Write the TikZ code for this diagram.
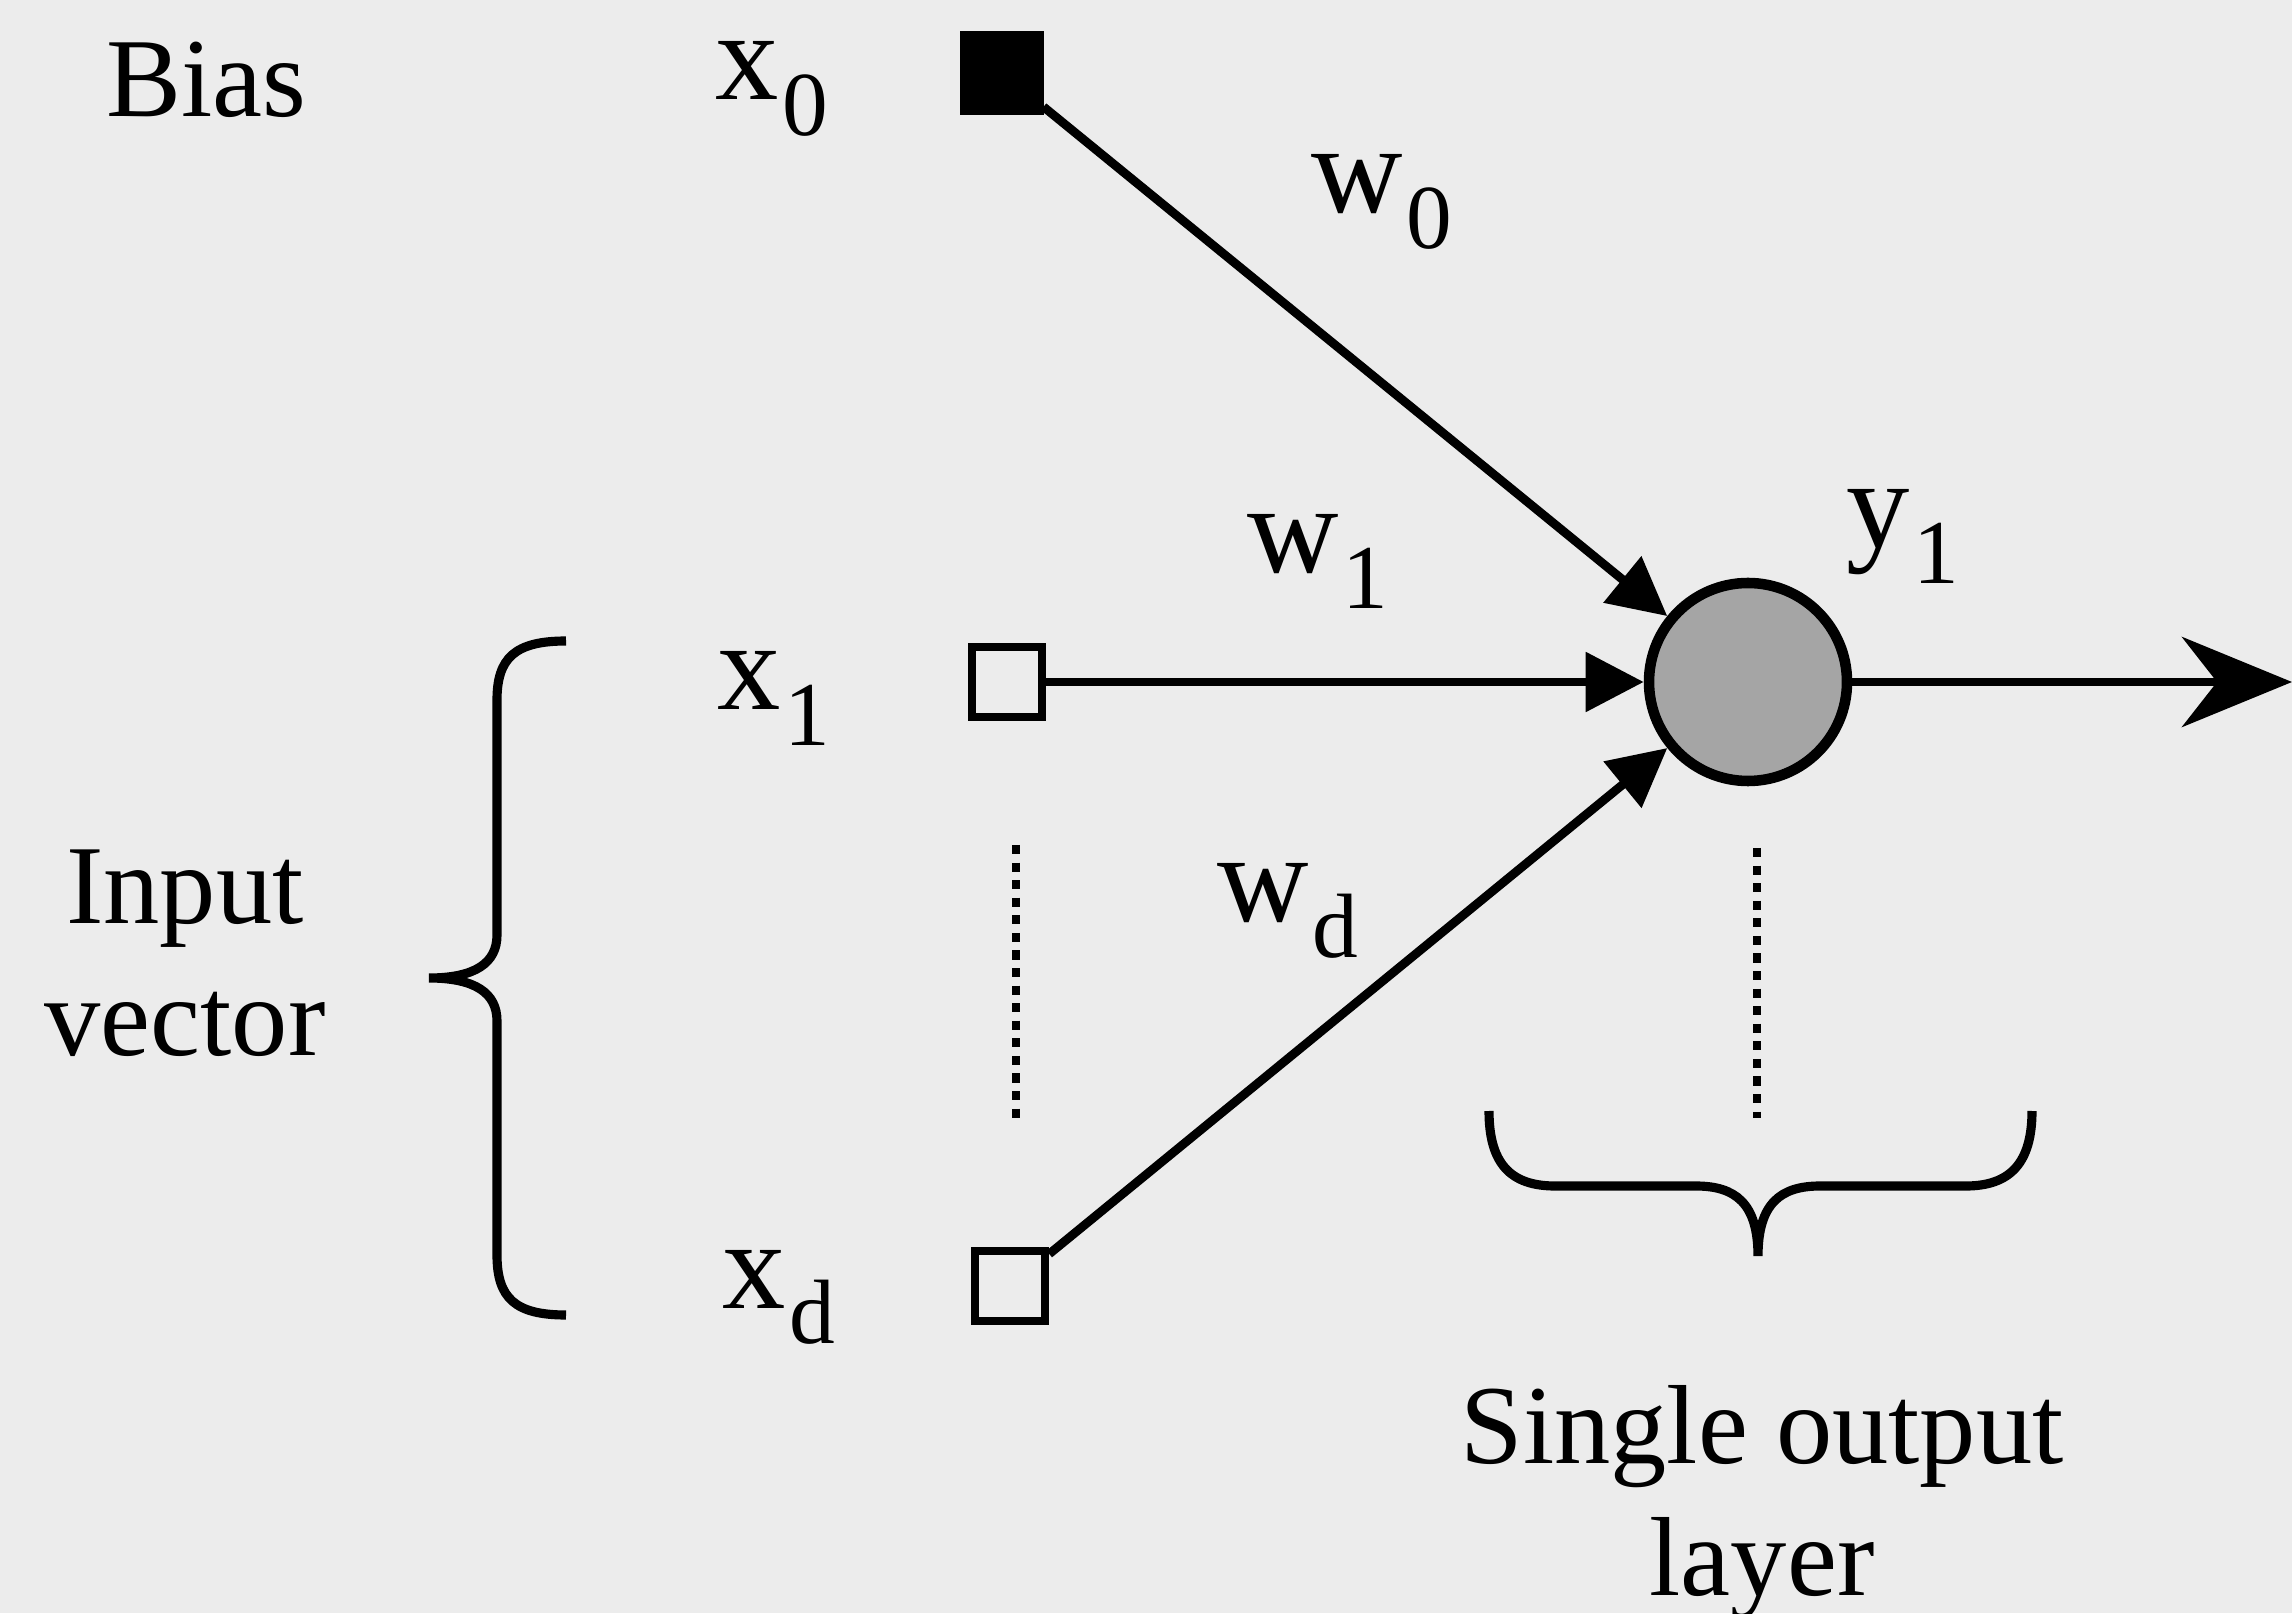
\documentclass[tikz,border=0pt]{standalone}
\usepackage{fontspec}
\setmainfont{Liberation Serif}
\usepackage{tikz}
\usetikzlibrary{arrows.meta, positioning, shapes.geometric}

\definecolor{paper}{RGB}{236,236,236}
\definecolor{cellgray}{RGB}{165,165,165}

% subscript as in the scanned figure
\newcommand{\idx}[1]{\kern1pt\raisebox{-10pt}{\fontsize{26}{26}\selectfont #1}}

\tikzset{
  inbox/.style={draw, line width=2.4pt, minimum size=0.7cm, inner sep=0pt},
  biasbox/.style={draw, fill=black, line width=2pt, minimum size=0.76cm, inner sep=0pt},
  neuron/.style={circle, draw, fill=cellgray, line width=3pt, minimum size=1.98cm, inner sep=0pt},
  conn/.style={line width=2.5pt, -{Triangle[length=0.58cm, width=0.58cm]}},
  lbl/.style={font=\fontsize{36}{40}\selectfont, inner sep=0pt, anchor=base west},
  words/.style={font=\fontsize{32}{37.5}\selectfont, inner sep=0pt, align=center},
  dots/.style={line width=2.2pt, dash pattern=on 2.6pt off 2.4pt},
  curly/.style={line width=2.6pt}
}

\begin{document}
\begin{tikzpicture}
\fill[paper] (0,0) rectangle (22.92,16.13);
\useasboundingbox (0,0) rectangle (22.92,16.13);

% input units
\node[biasbox] (bias) at (10.02,15.40) {};
\node[inbox] (in1) at (10.07,9.31) {};
\node[inbox] (ind) at (10.10,3.27) {};

% output unit
\node[neuron] (out) at (17.48,9.31) {};
\coordinate (outend) at (22.92,9.31);

% weights
\draw[conn] (bias) -- (out);
\draw[conn] (in1) -- (out);
\draw[conn] (ind) -- (out);
\draw[line width=2.5pt, -{Stealth[length=1.1cm, width=0.9cm, inset=0.35cm]}] (out) -- (outend);

% labels
\node[words, anchor=base west] (biastxt) at (1.06,14.96) {Bias};
\node[lbl] (x0) at (7.15,15.13) {x\idx{0}};
\node[lbl] (x1) at (7.17,9.03) {x\idx{1}};
\node[lbl] (xd) at (7.22,3.05) {x\idx{d}};
\node[lbl] (w0) at (13.11,14.00) {w\idx{0}};
\node[lbl] (w1) at (12.47,10.40) {w\idx{1}};
\node[lbl] (wd) at (12.17,6.91) {w\idx{d}};
\node[lbl] (y1) at (18.46,10.65) {y\idx{1}};

% dots between units
\draw[dots] (10.16,7.68) -- (10.16,4.95);
\draw[dots] (17.57,7.65) -- (17.57,4.95);

% braces
\draw[curly] (5.66,9.72) .. controls (5.15,9.72) and (4.97,9.55) .. (4.97,9.13)
  -- (4.97,6.78) .. controls (4.97,6.5) and (4.75,6.35) .. (4.29,6.35)
  .. controls (4.75,6.35) and (4.97,6.2) .. (4.97,5.92)
  -- (4.97,3.58) .. controls (4.97,3.15) and (5.15,2.98) .. (5.66,2.98);
\draw[curly] (14.89,5.02) .. controls (14.89,4.5) and (15.1,4.27) .. (15.55,4.27)
  -- (16.96,4.27) .. controls (17.35,4.27) and (17.58,4.1) .. (17.58,3.57)
  .. controls (17.58,4.1) and (17.81,4.27) .. (18.20,4.27)
  -- (19.66,4.27) .. controls (20.1,4.27) and (20.32,4.5) .. (20.32,5.02);

\node[words, anchor=north] (invec) at (1.85,7.64) {Input\\vector};
\node[words, anchor=north] (outlayer) at (17.62,2.28) {Single output\\layer};
\end{tikzpicture}
\end{document}
